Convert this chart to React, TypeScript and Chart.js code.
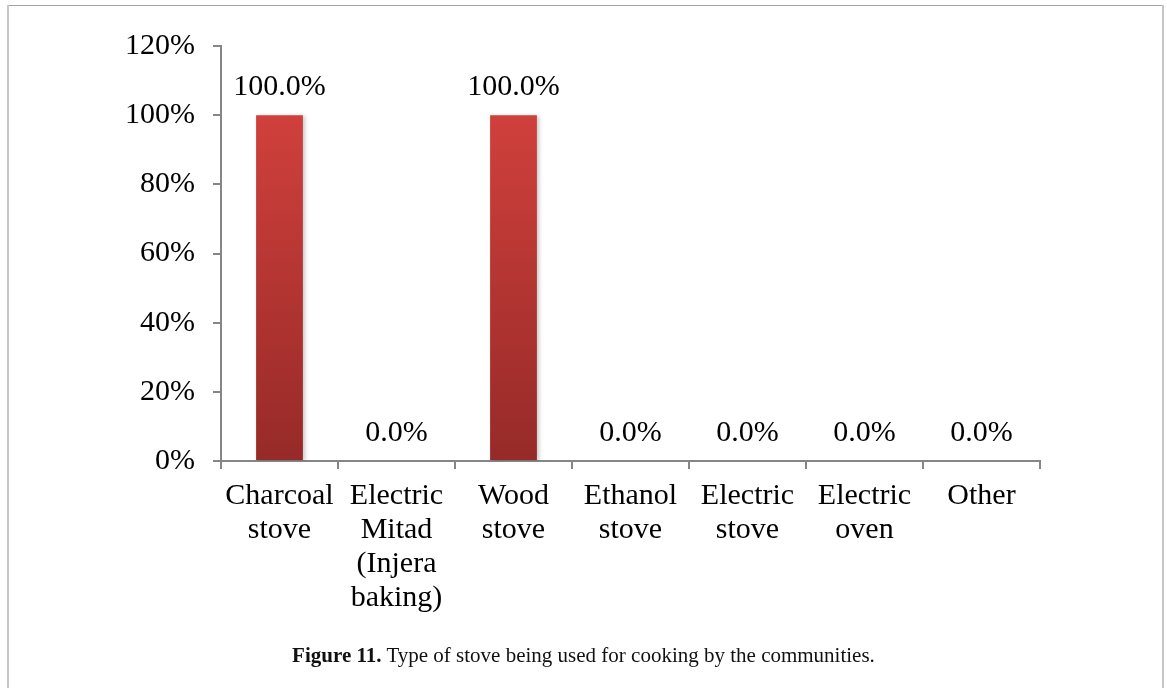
import React, { useEffect, useRef } from "react";
import { Chart, registerables } from "chart.js";

Chart.register(...registerables);

// Stove types (multi-line category labels) and share of households using each
const stoveLabels: string[][] = [
  ["Charcoal", "stove"],
  ["Electric", "Mitad", "(Injera", "baking)"],
  ["Wood", "stove"],
  ["Ethanol", "stove"],
  ["Electric", "stove"],
  ["Electric", "oven"],
  ["Other"],
];
const stoveShare: number[] = [100, 0, 100, 0, 0, 0, 0];
const yTicks: number[] = [0, 20, 40, 60, 80, 100, 120];

const SERIF = '"Liberation Serif", "Times New Roman", "DejaVu Serif", serif';

// Writes "xx.x%" above each bar
const valueLabels = {
  id: "valueLabels",
  afterDatasetsDraw(chart: any) {
    const ctx = chart.ctx;
    const meta = chart.getDatasetMeta(0);
    ctx.save();
    ctx.font = `30px ${SERIF}`;
    ctx.fillStyle = "#000";
    ctx.textAlign = "center";
    ctx.textBaseline = "middle";
    meta.data.forEach((bar: any, i: number) => {
      ctx.fillText(stoveShare[i].toFixed(1) + "%", bar.x, bar.y - 28);
    });
    ctx.restore();
  },
};

// Soft drop shadow under the bars
const barShadow = {
  id: "barShadow",
  beforeDatasetsDraw(chart: any) {
    const ctx = chart.ctx;
    ctx.save();
    ctx.shadowColor = "rgba(0,0,0,0.22)";
    ctx.shadowBlur = 4;
    ctx.shadowOffsetX = 2;
    ctx.shadowOffsetY = 1;
  },
  afterDatasetsDraw(chart: any) {
    chart.ctx.restore();
  },
};

export default function App() {
  const canvasRef = useRef<HTMLCanvasElement | null>(null);

  useEffect(() => {
    if (!canvasRef.current) return;
    const chart = new Chart(canvasRef.current, {
      type: "bar",
      data: {
        labels: stoveLabels,
        datasets: [
          {
            data: stoveShare,
            backgroundColor: (c: any) => {
              const { chart: ch } = c;
              const area = ch.chartArea;
              if (!area) return "#c23a36";
              const y = ch.scales.y;
              const g = ch.ctx.createLinearGradient(0, y.getPixelForValue(100), 0, y.getPixelForValue(0));
              g.addColorStop(0, "#d0403c");
              g.addColorStop(1, "#962a28");
              return g;
            },
            borderWidth: 0,
            categoryPercentage: 1,
            barPercentage: 0.4,
          },
        ],
      },
      options: {
        animation: false,
        responsive: false,
        maintainAspectRatio: false,
        layout: { padding: { left: 0, top: 46, right: 127, bottom: 0 } },
        plugins: {
          legend: { display: false },
          tooltip: { enabled: false },
        },
        scales: {
          x: {
            offset: true,
            afterFit: (s: any) => {
              s.height = 227;
            },
            grid: {
              offset: true,
              drawOnChartArea: false,
              drawTicks: true,
              tickLength: 8,
              color: "#868686",
              lineWidth: 2,
            },
            border: { color: "#868686", width: 2 },
            ticks: {
              color: "#000",
              font: { family: SERIF, size: 30, lineHeight: 1.13 },
              padding: 10,
              maxRotation: 0,
              autoSkip: false,
            },
          },
          y: {
            min: 0,
            max: 120,
            afterFit: (s: any) => {
              s.width = 221;
            },
            afterBuildTicks: (s: any) => {
              s.ticks = yTicks.map((v) => ({ value: v }));
            },
            grid: {
              drawOnChartArea: false,
              drawTicks: true,
              tickLength: 8,
              color: "#868686",
              lineWidth: 2,
            },
            border: { color: "#868686", width: 2 },
            ticks: {
              color: "#000",
              font: { family: SERIF, size: 30 },
              padding: 18,
              callback: (v: any) => v + "%",
            },
          },
        },
      },
      plugins: [barShadow, valueLabels],
    });
    return () => chart.destroy();
  }, []);

  return (
    <div
      style={{
        position: "fixed",
        left: 0,
        top: 0,
        width: 1167,
        height: 688,
        background: "#fff",
        overflow: "hidden",
      }}
    >
      <canvas ref={canvasRef} width={1167} height={688} style={{ position: "absolute", left: 0, top: 0 }} />
      {/* figure frame */}
      <div style={{ position: "absolute", left: 7, top: 5, width: 1157, height: 1, background: "#a3a3a3" }} />
      <div style={{ position: "absolute", left: 7, top: 5, width: 2, height: 683, background: "#c6c6c6" }} />
      <div style={{ position: "absolute", left: 1162, top: 5, width: 2, height: 683, background: "#c6c6c6" }} />
      <div
        style={{
          position: "absolute",
          left: 0,
          width: 1167,
          top: 642,
          textAlign: "center",
          fontFamily: SERIF,
          fontSize: 21,
          lineHeight: "26px",
          color: "#111",
        }}
      >
        <b>Figure 11.</b> Type of stove being used for cooking by the communities.
      </div>
    </div>
  );
}
